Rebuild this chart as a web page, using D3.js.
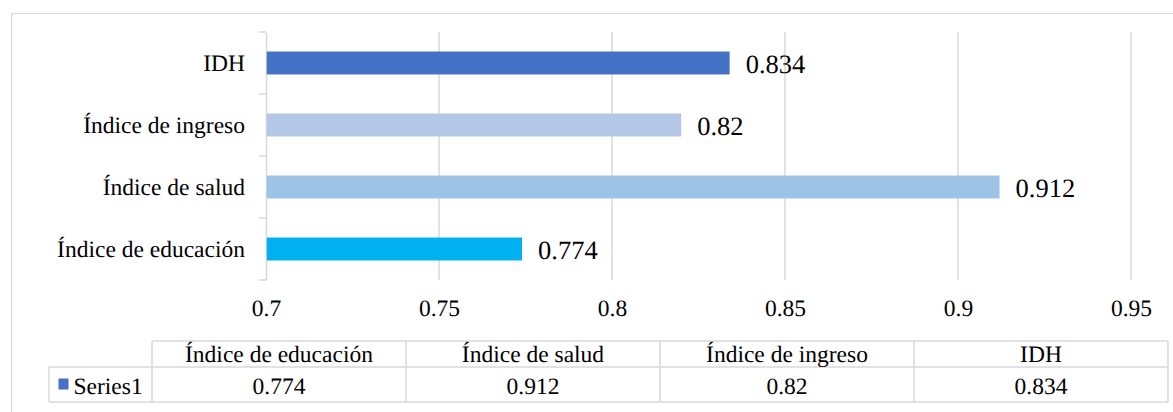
<!DOCTYPE html>
<html><head><meta charset="utf-8">
<script src="https://cdn.jsdelivr.net/npm/d3@7"></script>
<style>body{margin:0;background:#fff}svg{display:block}text{text-rendering:geometricPrecision}</style>
</head><body><svg id="c" width="1173" height="412"></svg>
<script>
const categories = ["Índice de educación","Índice de salud","Índice de ingreso","IDH"];
const values = [0.774, 0.912, 0.82, 0.834];
const colors = ["#00B0F0","#9DC3E6","#B4C7E7","#4472C4"];
const ticks = [0.7,0.75,0.8,0.85,0.9,0.95];
const seriesName = "Series1";

const FONT = "'Liberation Serif', 'Times New Roman', Times, serif";
const FS = 23.5;
const svg = d3.select("#c");
const grid = "#d9d9d9";
// outer frame
svg.append("rect").attr("x",11.5).attr("y",13.5).attr("width",1180).attr("height",420)
  .attr("fill","none").attr("stroke",grid).attr("stroke-width",1.2);

const x = d3.scaleLinear().domain([0.7,0.95]).range([266,1131]);
const y = d3.scaleBand().domain(categories.slice().reverse()).range([32,280]).paddingInner(0.63).paddingOuter(0.315);

// gridlines
svg.append("g").selectAll("line").data(ticks.slice(1)).join("line")
  .attr("x1",d=>x(d)).attr("x2",d=>x(d)).attr("y1",32).attr("y2",280)
  .attr("stroke",grid).attr("stroke-width",1.5);

// y axis
const yAxis = d3.axisLeft(y).tickSize(0).tickFormat("");
const ga = svg.append("g").attr("transform","translate(266,0)").call(yAxis);
ga.select(".domain").attr("stroke",grid).attr("stroke-width",1.5);
const bounds = d3.range(categories.length+1).map(i=>32+i*(248/categories.length));
svg.append("g").selectAll("line").data(bounds).join("line")
  .attr("x1",259).attr("x2",266).attr("y1",d=>d).attr("y2",d=>d)
  .attr("stroke",grid).attr("stroke-width",1.5);

// category labels
svg.append("g").selectAll("text").data(categories).join("text")
  .attr("x",245).attr("y",d=>y(d)+y.bandwidth()/2+8).attr("text-anchor","end")
  .attr("font-size",FS).text(d=>d);

// bars
svg.append("g").selectAll("rect").data(categories).join("rect")
  .attr("x",x(0.7)+0.75).attr("y",d=>y(d)).attr("height",y.bandwidth())
  .attr("width",(d,i)=>x(values[i])-x(0.7)-0.75).attr("fill",(d,i)=>colors[i]);

// value labels
svg.append("g").selectAll("text").data(categories).join("text")
  .attr("x",(d,i)=>x(values[i])+16).attr("y",d=>y(d)+y.bandwidth()/2+9.5)
  .attr("font-size",26.5).text((d,i)=>String(values[i]));

// x tick labels
const xAxis = d3.axisBottom(x).tickValues(ticks).tickSize(0).tickFormat(d=>String(d));
const gx = svg.append("g").attr("transform","translate(0,280)").call(xAxis);
gx.select(".domain").remove();
gx.selectAll("text").attr("font-size",FS).attr("dy",null).attr("y",36);

// data table
const colX = d3.scaleBand().domain(categories).range([152,1168]);
const tTop = 341, tMid = 367, tBot = 402, tLeft = 49;
const tg = svg.append("g").attr("stroke",grid).attr("stroke-width",1.5).attr("fill","none");
tg.append("line").attr("x1",152).attr("x2",1168).attr("y1",tTop).attr("y2",tTop);
tg.append("line").attr("x1",tLeft).attr("x2",1168).attr("y1",tMid).attr("y2",tMid);
tg.append("line").attr("x1",tLeft).attr("x2",1168).attr("y1",tBot).attr("y2",tBot);
tg.append("line").attr("x1",tLeft).attr("x2",tLeft).attr("y1",tMid).attr("y2",tBot);
tg.selectAll(".v").data(categories.concat(["end"])).join("line")
  .attr("x1",d=>d==="end"?1168:colX(d)).attr("x2",d=>d==="end"?1168:colX(d))
  .attr("y1",tTop).attr("y2",tBot);

svg.append("g").selectAll("text").data(categories).join("text")
  .attr("x",d=>colX(d)+colX.bandwidth()/2).attr("y",361.5).attr("text-anchor","middle")
  .attr("font-size",FS).text(d=>d);
svg.append("g").selectAll("text").data(categories).join("text")
  .attr("x",d=>colX(d)+colX.bandwidth()/2).attr("y",393.5).attr("text-anchor","middle")
  .attr("font-size",FS).text((d,i)=>String(values[i]));
svg.append("rect").attr("x",58.5).attr("y",378.5).attr("width",10).attr("height",11).attr("fill","#4472C4");
svg.append("text").attr("x",73.5).attr("y",393.5).attr("font-size",FS).text(seriesName);

svg.selectAll("g").attr("font-family",null);
svg.selectAll("text").style("font-family",FONT).attr("fill","#000");
</script></body></html>
